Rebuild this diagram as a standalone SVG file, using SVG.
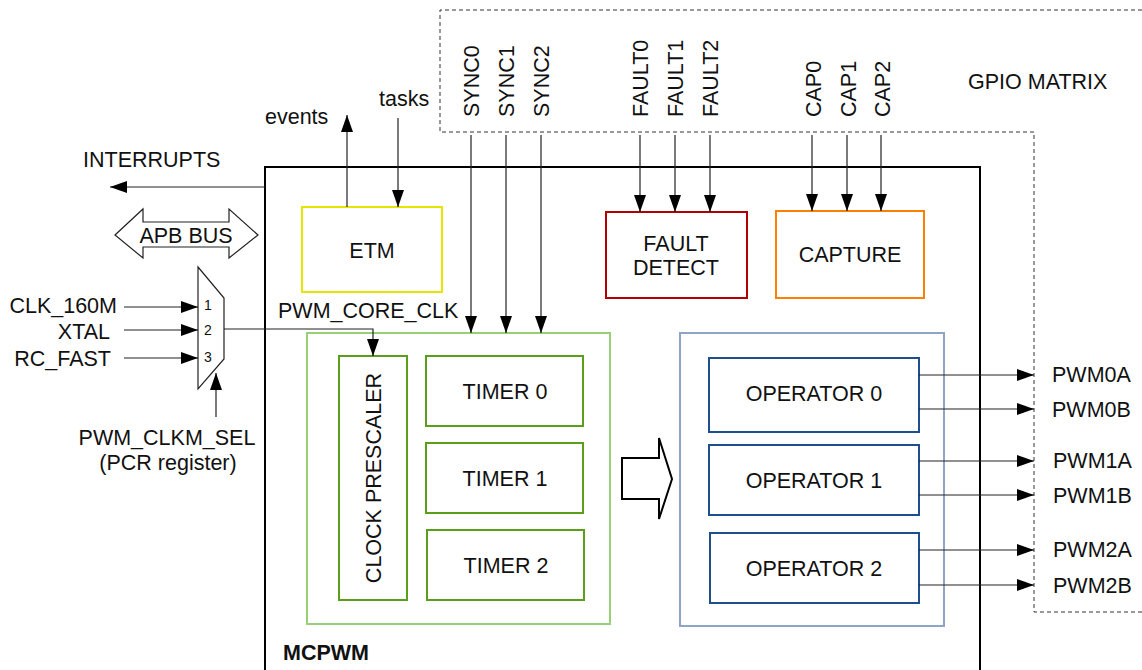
<svg xmlns="http://www.w3.org/2000/svg" width="1142" height="670" viewBox="0 0 1142 670">
<defs>
<marker id="ah" markerUnits="userSpaceOnUse" markerWidth="17" markerHeight="12" refX="17" refY="6" orient="auto">
<path d="M0,0 L17,6 L0,12 z" fill="#000"/>
</marker>
<style>
text{font-family:"Liberation Sans",Arial,sans-serif;font-size:21.5px;fill:#111}
.c{text-anchor:middle}
.e{text-anchor:end}
.ar{stroke:#222;stroke-width:1.2;fill:none;marker-end:url(#ah)}
.box{fill:#fff;stroke-width:2}
.tim{fill:#fff;stroke:#5a9e1a;stroke-width:2}
.op{fill:#fff;stroke:#1f4e8c;stroke-width:2}
.small{font-size:14px}
</style>
</defs>
<rect width="1142" height="670" fill="#fff"/>

<g id="gpio-matrix">
<path d="M1142,10 H440 V132 H1034 V612 H1142" fill="none" stroke="#333" stroke-width="1" stroke-dasharray="4 3"/>
<text x="968" y="89">GPIO MATRIX</text>
<text transform="translate(479,117) rotate(-90)">SYNC0</text>
<text transform="translate(514,117) rotate(-90)">SYNC1</text>
<text transform="translate(549,117) rotate(-90)">SYNC2</text>
<text transform="translate(648,117) rotate(-90)">FAULT0</text>
<text transform="translate(683,117) rotate(-90)">FAULT1</text>
<text transform="translate(718,117) rotate(-90)">FAULT2</text>
<text transform="translate(821,117) rotate(-90)">CAP0</text>
<text transform="translate(856,117) rotate(-90)">CAP1</text>
<text transform="translate(890,117) rotate(-90)">CAP2</text>
</g>

<g id="mcpwm">
<rect x="265" y="167" width="715" height="530" fill="none" stroke="#000" stroke-width="2"/>
<text x="283" y="660" font-weight="bold">MCPWM</text>
</g>

<g id="etm">
<rect x="302" y="207" width="140" height="85" class="box" stroke="#e5e500"/>
<text x="372" y="258" class="c">ETM</text>
</g>

<g id="fault-detect">
<rect x="606" y="212" width="141" height="86" class="box" stroke="#b20000"/>
<text x="676" y="251" class="c">FAULT</text>
<text x="676" y="275" class="c">DETECT</text>
</g>

<g id="capture">
<rect x="776" y="211" width="148" height="87" class="box" stroke="#ff8000"/>
<text x="850" y="262" class="c">CAPTURE</text>
</g>

<g id="timer-group">
<rect x="307" y="333" width="303" height="291" fill="none" stroke="#97d077" stroke-width="2"/>
</g>

<g id="clock-prescaler">
<rect x="339" y="356" width="68" height="244" class="tim"/>
<text transform="translate(381,478) rotate(-90)" class="c">CLOCK PRESCALER</text>
</g>

<g id="timer0">
<rect x="426" y="356" width="157" height="70" class="tim"/>
<text x="505" y="399" class="c">TIMER 0</text>
</g>
<g id="timer1">
<rect x="426" y="443" width="157" height="70" class="tim"/>
<text x="505" y="486" class="c">TIMER 1</text>
</g>
<g id="timer2">
<rect x="427" y="530" width="157" height="70" class="tim"/>
<text x="506" y="573" class="c">TIMER 2</text>
</g>

<g id="operator-group">
<rect x="680" y="333" width="264" height="293" fill="none" stroke="#8fa5c8" stroke-width="2"/>
</g>

<g id="operator0">
<rect x="709" y="358" width="210" height="74" class="op"/>
<text x="814" y="401" class="c">OPERATOR 0</text>
</g>
<g id="operator1">
<rect x="709" y="445" width="210" height="70" class="op"/>
<text x="814" y="488" class="c">OPERATOR 1</text>
</g>
<g id="operator2">
<rect x="710" y="533" width="209" height="70" class="op"/>
<text x="814" y="576" class="c">OPERATOR 2</text>
</g>

<g id="mux">
<polygon points="198,267 224,298 224,359 198,389" fill="#fff" stroke="#222" stroke-width="1.2"/>
<text x="204" y="310" class="small">1</text>
<text x="204" y="335" class="small">2</text>
<text x="204" y="362" class="small">3</text>
</g>

<g id="apb-bus">
<polygon points="115,235 143,209 143,222 229,222 229,209 258,235 229,258 229,247 143,247 143,258" fill="#fff" stroke="#222" stroke-width="1.2"/>
<text x="186" y="243" class="c">APB BUS</text>
</g>

<g id="labels">
<text x="83" y="167">INTERRUPTS</text>
<text x="265" y="124">events</text>
<text x="379" y="106">tasks</text>
<text x="117" y="313" class="e">CLK_160M</text>
<text x="110" y="339" class="e">XTAL</text>
<text x="111" y="366" class="e">RC_FAST</text>
<text x="167" y="445" class="c">PWM_CLKM_SEL</text>
<text x="168" y="470" class="c">(PCR register)</text>
<text x="278" y="318">PWM_CORE_CLK</text>
<text x="1052" y="382">PWM0A</text>
<text x="1052" y="417">PWM0B</text>
<text x="1053" y="468">PWM1A</text>
<text x="1053" y="503">PWM1B</text>
<text x="1053" y="557">PWM2A</text>
<text x="1053" y="593">PWM2B</text>
</g>

<g id="connectors">
<path class="ar" d="M265,187 H110"/>
<path class="ar" d="M347,207 V115"/>
<path class="ar" d="M398,118 V207"/>
<path class="ar" d="M471,135 V333"/>
<path class="ar" d="M506,135 V333"/>
<path class="ar" d="M541,135 V333"/>
<path class="ar" d="M640,135 V212"/>
<path class="ar" d="M675,135 V212"/>
<path class="ar" d="M710,135 V212"/>
<path class="ar" d="M812,135 V211"/>
<path class="ar" d="M847,135 V211"/>
<path class="ar" d="M881,135 V211"/>
<path class="ar" d="M124,307 H198"/>
<path class="ar" d="M124,330 H198"/>
<path class="ar" d="M124,358 H198"/>
<path class="ar" d="M216,417 V373"/>
<path class="ar" d="M224,329 H373 V356"/>
<path class="ar" d="M919,375 H1034"/>
<path class="ar" d="M919,409 H1034"/>
<path class="ar" d="M919,461 H1034"/>
<path class="ar" d="M919,495 H1034"/>
<path class="ar" d="M919,550 H1034"/>
<path class="ar" d="M919,585 H1034"/>
<polygon points="622,458 659,458 659,438 672,479 659,519 659,499 622,499" fill="#fff" stroke="#000" stroke-width="2"/>
</g>
</svg>
